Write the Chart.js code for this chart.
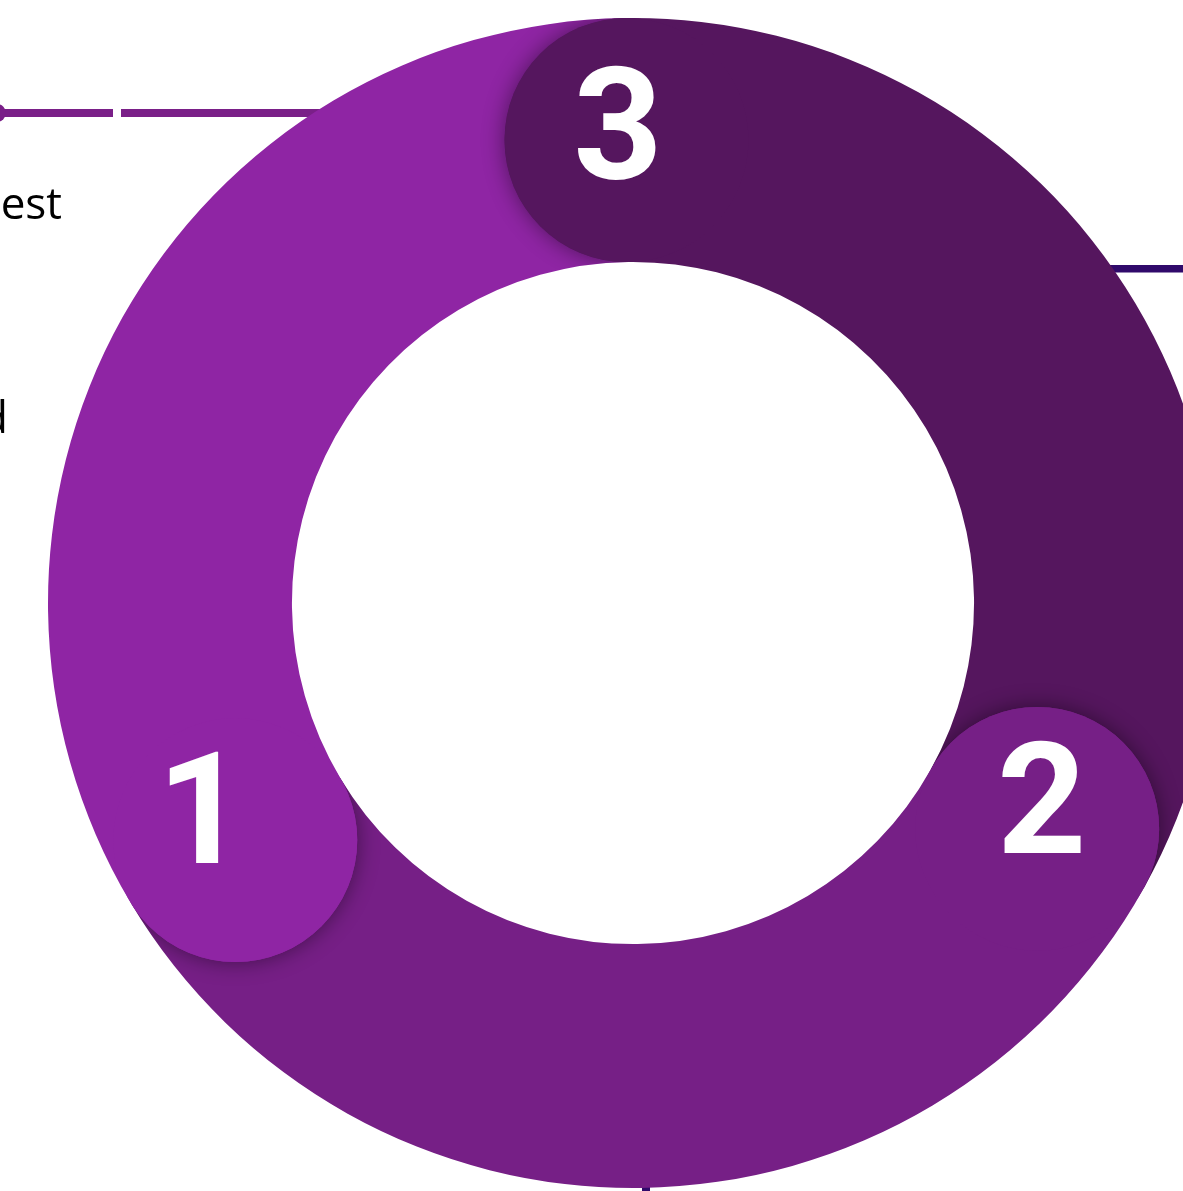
<!DOCTYPE html>
<html>
<head>
<meta charset="utf-8">
<script src="https://cdn.jsdelivr.net/npm/chart.js@4/dist/chart.umd.min.js"></script>
<style>
html,body{margin:0;padding:0;overflow:hidden;background:#fff;width:1183px;height:1191px}
#wrap{position:absolute;left:0;top:0;width:1266px;height:1191px}
canvas{display:block}
</style>
</head>
<body>
<div id="wrap"><canvas id="c" width="1266" height="1191"></canvas></div>
<script>
// ---- data (clockwise from the top) ----
const stepLabels = ['3', '2', '1'];
const stepValues = [1, 1, 1];
const stepColors = ['#55165E', '#761F86', '#8F25A4'];
const fragmentTexts = ['est', 'd'];

// ---- style ----
const numberOffsets = [[-8.5, 37.5], [4.5, 24.5], [-33.5, 22.5]];
const numberFont = '700 156px Roboto';
const textFont = '44px "Open Sans"';

const decorPlugin = {
  id: 'decor',
  beforeDatasetsDraw(chart) {
    const ctx = chart.ctx;
    ctx.save();
    // left connector line with dot and gap
    ctx.fillStyle = '#7A1F88';
    ctx.fillRect(-10, 109, 360, 8);
    ctx.fillStyle = '#ffffff';
    ctx.fillRect(113, 105, 8, 16);
    ctx.fillStyle = '#7A1F88';
    ctx.beginPath(); ctx.arc(-3, 113, 9, 0, Math.PI * 2); ctx.fill();
    // right connector line
    ctx.fillStyle = '#300A6B';
    ctx.fillRect(1040, 265, 240, 7.5);
    // bottom tick
    ctx.fillRect(642, 1140, 8, 60);
    ctx.restore();
  },
  afterDraw(chart) {
    const ctx = chart.ctx;
    ctx.save();
    ctx.fillStyle = '#000000';
    ctx.font = textFont;
    ctx.textAlign = 'right';
    ctx.textBaseline = 'alphabetic';
    ctx.fillText(fragmentTexts[0], 62, 219);
    ctx.fillText(fragmentTexts[1], 8, 433);
    ctx.restore();
  }
};

const capPlugin = {
  id: 'caps',
  afterDatasetsDraw(chart) {
    const ctx = chart.ctx;
    const meta = chart.getDatasetMeta(0);
    meta.data.forEach((arc, i) => {
      const p = arc.getProps(['x', 'y', 'startAngle', 'innerRadius', 'outerRadius'], true);
      const rm = (p.innerRadius + p.outerRadius) / 2;
      const rc = (p.outerRadius - p.innerRadius) / 2;
      const cx = p.x + Math.cos(p.startAngle) * rm;
      const cy = p.y + Math.sin(p.startAngle) * rm;
      const color = arc.options.backgroundColor;
      // shadow only onto the preceding segment (inside the ring)
      ctx.save();
      ctx.beginPath();
      ctx.arc(p.x, p.y, p.outerRadius, p.startAngle - Math.PI / 2, p.startAngle);
      ctx.arc(p.x, p.y, p.innerRadius, p.startAngle, p.startAngle - Math.PI / 2, true);
      ctx.closePath();
      ctx.clip();
      ctx.shadowColor = 'rgba(0,0,0,0.45)';
      ctx.shadowBlur = 22;
      ctx.beginPath(); ctx.arc(cx, cy, rc, 0, Math.PI * 2);
      ctx.fillStyle = color; ctx.fill();
      ctx.restore();
      ctx.save();
      ctx.beginPath(); ctx.arc(cx, cy, rc, 0, Math.PI * 2);
      ctx.fillStyle = color; ctx.fill();
      ctx.fillStyle = '#ffffff';
      ctx.font = numberFont;
      ctx.textAlign = 'center';
      ctx.textBaseline = 'alphabetic';
      const off = numberOffsets[i];
      ctx.fillText(chart.data.labels[i], cx + off[0], cy + off[1]);
      ctx.restore();
    });
  }
};

function build() {
  new Chart(document.getElementById('c'), {
    type: 'doughnut',
    data: {
      labels: stepLabels,
      datasets: [{
        data: stepValues,
        backgroundColor: stepColors,
        borderWidth: 0,
        hoverOffset: 0
      }]
    },
    options: {
      responsive: false,
      animation: false,
      rotation: -0.8,
      cutout: '58.3%',
      layout: { padding: { left: 48, right: 48, top: 18, bottom: 3 } },
      plugins: { legend: { display: false }, tooltip: { enabled: false } },
      events: []
    },
    plugins: [decorPlugin, capPlugin]
  });
}

Promise.all([
  document.fonts.load(numberFont, '123'),
  document.fonts.load(textFont, 'est d')
]).then(build, build);
</script>
</body>
</html>
